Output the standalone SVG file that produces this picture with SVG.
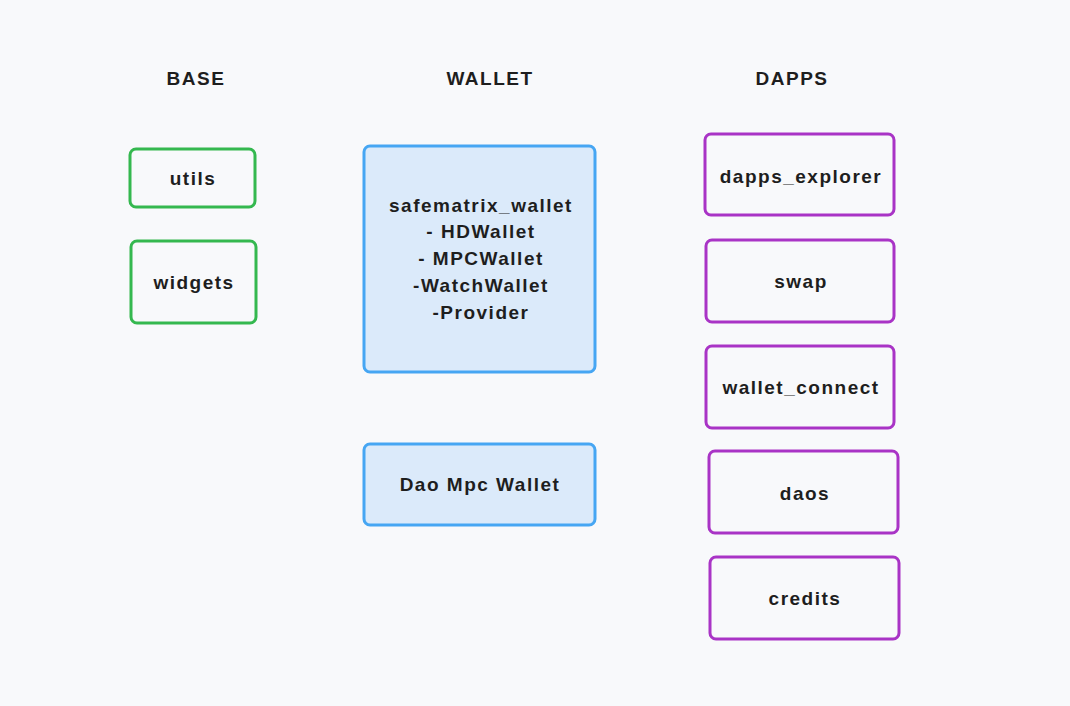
<svg xmlns="http://www.w3.org/2000/svg" width="1070" height="706" viewBox="0 0 1070 706">
<style>
text{font-family:"Liberation Sans",Arial,sans-serif;font-weight:bold;font-size:19px;letter-spacing:1.5px;fill:#1e1e1e;text-anchor:middle;dominant-baseline:central}
.g{fill:none;stroke:#34b84f;stroke-width:3}
.b{fill:#dbeafa;stroke:#46a6f3;stroke-width:3}
.p{fill:none;stroke:#a934c6;stroke-width:3}
</style>
<rect width="1070" height="706" fill="#f8f9fb"/>
<g id="titles">
<text x="196" y="78">BASE</text>
<text x="490" y="78">WALLET</text>
<text x="792" y="78">DAPPS</text>
</g>
<g id="utils"><rect class="g" x="130" y="149" width="125" height="58" rx="6"/><text x="193" y="178">utils</text></g>
<g id="widgets"><rect class="g" x="131" y="241" width="125" height="82" rx="6"/><text x="194" y="282">widgets</text></g>
<g id="safematrix_wallet"><rect class="b" x="364" y="146" width="231" height="226" rx="6"/>
<text x="481" y="205">safematrix_wallet</text>
<text x="481" y="231">- HDWallet</text>
<text x="481" y="258">- MPCWallet</text>
<text x="481" y="285">-WatchWallet</text>
<text x="481" y="312">-Provider</text></g>
<g id="dao_mpc_wallet"><rect class="b" x="364" y="444" width="231" height="81" rx="6"/><text x="480" y="484">Dao Mpc Wallet</text></g>
<g id="dapps_explorer"><rect class="p" x="705" y="134" width="189" height="81" rx="6"/><text x="801" y="176">dapps_explorer</text></g>
<g id="swap"><rect class="p" x="706" y="240" width="188" height="82" rx="6"/><text x="801" y="281">swap</text></g>
<g id="wallet_connect"><rect class="p" x="706" y="346" width="188" height="82" rx="6"/><text x="801" y="387">wallet_connect</text></g>
<g id="daos"><rect class="p" x="709" y="451" width="189" height="82" rx="6"/><text x="805" y="493">daos</text></g>
<g id="credits"><rect class="p" x="710" y="557" width="189" height="82" rx="6"/><text x="805" y="598">credits</text></g>
<g id="connectors"/>
</svg>
